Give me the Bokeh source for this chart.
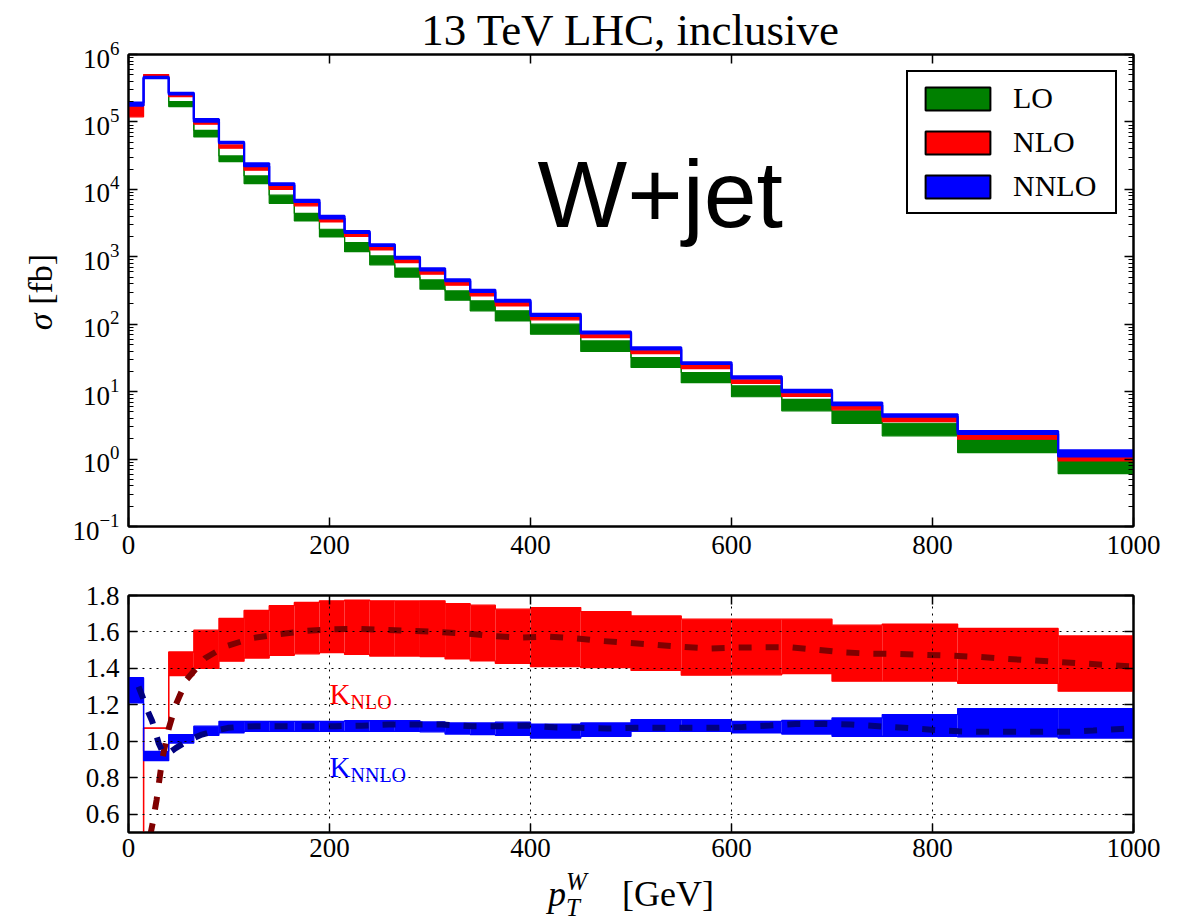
import math
from bokeh.plotting import figure
from bokeh.layouts import column, row
from bokeh.models import (FixedTicker, LinearAxis, Label, Legend, LegendItem, Div,
                          PrintfTickFormatter, Range1d, LogTickFormatter, CustomJSTickFormatter)
from bokeh.embed import file_html
from bokeh.resources import INLINE

SERIF = "Liberation Serif"
SANS = "Liberation Sans"
NAN = float("nan")

# ---------------- data ----------------
pt_edges = [0, 15, 40, 65, 90, 115, 140, 165, 190, 215, 240, 265, 290, 315, 340,
            365, 400, 450, 500, 550, 600, 650, 700, 750, 825, 925, 1000]

lo_low = [NAN, 4.45e5, 1.69e5, 6.0e4, 2.58e4, 1.22e4, 6.2e3, 3.4e3, 1.97e3, 1.19e3, 7.6e2,
          5.0e2, 3.3e2, 2.27e2, 1.58e2, 1.12e2, 71, 39.4, 22.8, 13.6, 8.4, 5.2, 3.37, 2.21, 1.25, 0.61]
lo_high = [NAN, 4.6e5, 2.0e5, 7.5e4, 3.13e4, 1.58e4, 8.2e3, 4.4e3, 2.56e3, 1.63e3, 1.03e3,
           6.8e2, 4.54e2, 3.12e2, 2.22e2, 1.58e2, 100, 56.6, 32.0, 19.2, 12.2, 7.7, 5.2, 3.4, 1.97, 0.94]

nlo_low = [1.19e5, 4.70e5, 2.38e5, 9.25e4, 4.07e4, 1.92e4, 1.00e4, 5.7e3, 3.29e3, 2.0e3, 1.26e3,
           8.2e2, 5.52e2, 3.78e2, 2.63e2, 1.87e2, 1.16e2, 63.4, 36.7, 22.0, 13.2, 8.5, 5.37, 3.6, 1.97, 0.94]
nlo_high = [1.72e5, 5.05e5, 2.60e5, 1.03e5, 4.56e4, 2.15e4, 1.12e4, 6.4e3, 3.73e3, 2.29e3, 1.45e3,
            9.2e2, 6.18e2, 4.25e2, 2.95e2, 2.09e2, 1.30e2, 71.0, 41.2, 25.5, 15.0, 9.5, 6.15, 4.13, 2.29, 1.08]

nnlo_low = [1.75e5, 4.45e5, 2.57e5, 1.01e5, 4.84e4, 2.21e4, 1.16e4, 6.5e3, 3.72e3, 2.26e3, 1.45e3,
            9.4e2, 6.3e2, 4.37e2, 3.02e2, 2.16e2, 1.33e2, 73.3, 42.2, 25.7, 15.7, 9.8, 6.3, 4.27, 2.37, 1.10]
nnlo_high = [1.94e5, 4.65e5, 2.70e5, 1.10e5, 5.07e4, 2.43e4, 1.23e4, 7.0e3, 4.03e3, 2.40e3, 1.53e3,
             1.0e3, 6.75e2, 4.62e2, 3.24e2, 2.29e2, 1.43e2, 77.6, 45.2, 27.2, 16.8, 10.6, 6.9, 4.62, 2.60, 1.35]

knlo_low = [0.0, 1.073, 1.36, 1.40, 1.44, 1.457, 1.472, 1.48, 1.487, 1.477, 1.468, 1.468, 1.465,
            1.452, 1.441, 1.428, 1.41, 1.404, 1.389, 1.363, 1.365, 1.371, 1.33, 1.33, 1.318, 1.275]
knlo_high = [0.0, 1.073, 1.49, 1.61, 1.675, 1.718, 1.744, 1.762, 1.771, 1.775, 1.771, 1.77, 1.771,
             1.755, 1.747, 1.725, 1.734, 1.712, 1.688, 1.67, 1.67, 1.67, 1.637, 1.643, 1.619, 1.578]

knnlo_low = [1.211, 0.894, 0.991, 1.033, 1.046, 1.055, 1.055, 1.055, 1.055, 1.055, 1.055, 1.055, 1.052,
             1.04, 1.037, 1.033, 1.018, 1.028, 1.055, 1.055, 1.046, 1.04, 1.028, 1.028, 1.024, 1.018]
knnlo_high = [1.349, 0.945, 1.037, 1.083, 1.11, 1.11, 1.11, 1.11, 1.11, 1.113, 1.113, 1.113, 1.106,
              1.101, 1.101, 1.105, 1.095, 1.101, 1.119, 1.119, 1.11, 1.115, 1.128, 1.147, 1.18, 1.18]

knlo_fit_x = [21.5, 24, 28, 33.5, 40, 47, 58, 76, 96, 123, 150, 177, 203, 230, 256, 283, 309, 337,
              363, 390, 417, 444, 470, 497, 524, 551, 578, 604, 631, 658, 685, 712, 738, 766, 792,
              820, 846, 873, 899, 927, 953, 980, 1000]
knlo_fit_y = [0.48, 0.55, 0.68, 0.90, 1.07, 1.20, 1.34, 1.455, 1.52, 1.566, 1.588, 1.606, 1.615,
              1.617, 1.611, 1.606, 1.60, 1.591, 1.578, 1.569, 1.575, 1.566, 1.551, 1.54, 1.53, 1.518,
              1.509, 1.514, 1.516, 1.516, 1.503, 1.488, 1.481, 1.479, 1.474, 1.47, 1.463, 1.453,
              1.444, 1.435, 1.426, 1.417, 1.41]

knnlo_fit_x = [10, 13.6, 18, 23.6, 30, 35, 40, 47, 58, 73, 86, 99, 112, 126, 153, 179, 206, 232,
               259, 285, 312, 342, 369, 396, 423, 450, 477, 504, 530, 557, 584, 611, 638, 664, 692,
               719, 746, 772, 799, 826, 853, 879, 906, 933, 960, 987, 1000]
knnlo_fit_y = [1.30, 1.25, 1.18, 1.11, 0.99, 0.93, 0.935, 0.963, 1.0, 1.037, 1.058, 1.074, 1.08,
               1.083, 1.083, 1.083, 1.083, 1.086, 1.092, 1.092, 1.092, 1.083, 1.083, 1.087, 1.077,
               1.074, 1.07, 1.074, 1.074, 1.074, 1.074, 1.079, 1.087, 1.095, 1.096, 1.092, 1.083,
               1.074, 1.064, 1.055, 1.052, 1.052, 1.052, 1.052, 1.059, 1.068, 1.072]

x_ticks = [0, 200, 400, 600, 800, 1000]
y_log_ticks = [10.0 ** k for k in range(-1, 7)]
y_log_minor = [m * 10.0 ** k for k in range(-1, 6) for m in range(2, 10)]
k_ticks = [0.6, 0.8, 1.0, 1.2, 1.4, 1.6, 1.8]

series_names = ["LO", "NLO", "NNLO"]

# colors
C_LO, C_NLO, C_NNLO = "#008000", "#ff0000", "#0000ff"
C_NLO_FIT, C_NNLO_FIT = "#800000", "#000080"


def steps(edges, vals):
    return list(edges), list(vals) + [vals[-1]]


def band(p, lows, highs, color, lw, start=0):
    e = pt_edges[start:]
    lo = lows[start:]
    hi = highs[start:]
    p.quad(left=e[:-1], right=e[1:], bottom=lo, top=hi, fill_color=color, line_color=None)
    for arr in (lo, hi):
        x, y = steps(e, arr)
        p.step(x=x, y=y, mode="after", line_color=color, line_width=lw)


def style_axis(ax, labels=True, size="27px", minor=True, standoff=9):
    ax.major_tick_in = 9
    ax.major_tick_out = 0
    ax.minor_tick_in = 5 if minor else 0
    ax.minor_tick_out = 0
    ax.major_tick_line_color = "black"
    ax.major_tick_line_width = 1.5
    ax.minor_tick_line_color = "black" if minor else None
    ax.minor_tick_line_width = 1
    ax.axis_line_color = "black"
    ax.axis_line_width = 2
    ax.major_label_text_font = SERIF
    ax.major_label_text_color = "black"
    if labels:
        ax.major_label_text_font_size = size
        ax.major_label_standoff = standoff
    else:
        ax.formatter = CustomJSTickFormatter(code="return ''")
        ax.major_label_text_font_size = "2px"
        ax.major_label_standoff = 0


# ---------------- y label ----------------
ylab_div = Div(width=60, height=575, margin=0, text=(
    "<div style=\"position:relative;width:60px;height:575px;\">"
    "<div style=\"position:absolute;left:41px;top:292px;transform:translate(-50%,-50%) rotate(-90deg);"
    "white-space:nowrap;font-family:'Liberation Serif';font-size:34px;line-height:1;color:#000;\">"
    "<i>&sigma;</i> [fb]</div></div>"))

# ---------------- top panel ----------------
top = figure(width=1123, height=575, x_range=Range1d(0, 1000), y_range=Range1d(0.1, 1e6),
             y_axis_type="log", output_backend="svg", toolbar_location=None,
             min_border_left=68, min_border_right=50, min_border_top=54, min_border_bottom=49)
top.outline_line_color = "black"
top.outline_line_width = 2
top.xgrid.visible = False
top.ygrid.visible = False
top.title.text = "13 TeV LHC, inclusive"
top.title.text_font = SERIF
top.title.text_font_size = "45px"
top.title.text_font_style = "normal"
top.title.text_color = "black"
top.title.align = "center"
top.title.standoff = 0

band(top, lo_low, lo_high, C_LO, 1.2, start=1)
band(top, nlo_low, nlo_high, C_NLO, 1.2)
band(top, nnlo_low, nnlo_high, C_NNLO, 2.2)

top.xaxis.ticker = FixedTicker(ticks=x_ticks)
style_axis(top.xaxis[0], minor=False)
top.yaxis.ticker = FixedTicker(ticks=y_log_ticks, minor_ticks=y_log_minor)
top.yaxis.formatter = LogTickFormatter()
style_axis(top.yaxis[0])

ax_top = LinearAxis(ticker=FixedTicker(ticks=x_ticks))
style_axis(ax_top, labels=False, minor=False)
top.add_layout(ax_top, "above")
ax_right = LinearAxis(ticker=FixedTicker(ticks=y_log_ticks, minor_ticks=y_log_minor))
style_axis(ax_right, labels=False)
top.add_layout(ax_right, "right")

# legend swatches (fill + black edge)
swatches = []
for col in (C_LO, C_NLO, C_NNLO):
    swatches.append(top.quad(left=[0], right=[0], bottom=[1], top=[1], fill_color=col,
                             line_color="black", line_width=2))
legend = Legend(items=[LegendItem(label=n, renderers=[r]) for n, r in zip(series_names, swatches)],
                location="top_right", margin=16, padding=9, spacing=10,
                glyph_width=81, glyph_height=29, label_standoff=15, label_width=93,
                label_text_font=SERIF, label_text_font_size="30px", label_text_color="black",
                border_line_color="black", border_line_width=2, border_line_alpha=1,
                background_fill_color="white", background_fill_alpha=1)
top.add_layout(legend)

top.add_layout(Label(x=407, y=2.5e3, y_offset=36, text="W+jet", text_font=SANS,
                     text_font_size="95px", text_color="black",
                     text_baseline="alphabetic", text_align="left"))

# ---------------- bottom panel ----------------
bot = figure(width=1183, height=294, x_range=Range1d(0, 1000), y_range=Range1d(0.5, 1.8),
             output_backend="svg", toolbar_location=None,
             min_border_left=128, min_border_right=50, min_border_top=20, min_border_bottom=37)
bot.outline_line_color = "black"
bot.outline_line_width = 2

band(bot, knlo_low, knlo_high, C_NLO, 1.3)
band(bot, knnlo_low, knnlo_high, C_NNLO, 1.3)
bot.line(knlo_fit_x, knlo_fit_y, line_color=C_NLO_FIT, line_width=6, line_dash="13 14")
bot.line(knnlo_fit_x, knnlo_fit_y, line_color=C_NNLO_FIT, line_width=6, line_dash="13 14")

bot.xaxis.ticker = FixedTicker(ticks=x_ticks)
style_axis(bot.xaxis[0], minor=False, standoff=6)
bot.yaxis.ticker = FixedTicker(ticks=k_ticks)
bot.yaxis.formatter = PrintfTickFormatter(format="%.1f")
style_axis(bot.yaxis[0], minor=False)
bax_top = LinearAxis(ticker=FixedTicker(ticks=x_ticks))
style_axis(bax_top, labels=False, minor=False)
bot.add_layout(bax_top, "above")
bax_right = LinearAxis(ticker=FixedTicker(ticks=k_ticks))
style_axis(bax_right, labels=False, minor=False)
bot.add_layout(bax_right, "right")

for g in (bot.xgrid[0], bot.ygrid[0]):
    g.grid_line_color = "black"
    g.grid_line_dash = "2 5"
    g.grid_line_width = 1
    g.level = "overlay"
bot.xgrid.ticker = FixedTicker(ticks=x_ticks)
bot.ygrid.ticker = FixedTicker(ticks=k_ticks)

bot.add_layout(Label(x=200, y=1.2, y_offset=11, text="K", text_font=SERIF, text_font_size="29px",
                     text_color=C_NLO, text_baseline="alphabetic"))
bot.add_layout(Label(x=200, y=1.2, x_offset=21, y_offset=2.5, text="NLO", text_font=SERIF,
                     text_font_size="20px", text_color=C_NLO, text_baseline="alphabetic"))
bot.add_layout(Label(x=200, y=0.8, y_offset=11, text="K", text_font=SERIF, text_font_size="29px",
                     text_color=C_NNLO, text_baseline="alphabetic"))
bot.add_layout(Label(x=200, y=0.8, x_offset=21, y_offset=2.5, text="NNLO", text_font=SERIF,
                     text_font_size="20px", text_color=C_NNLO, text_baseline="alphabetic"))

# ---------------- x label  p_T^W [GeV] ----------------
xlab_div = Div(width=1183, height=52, margin=0, text=(
    "<div style=\"position:relative;width:1183px;height:52px;font-family:'Liberation Serif';"
    "line-height:1;color:#000;\">"
    "<span style=\"position:absolute;left:548px;top:7px;font-size:36px;font-style:italic;\">p</span>"
    "<span style=\"position:absolute;left:566px;top:0px;font-size:25px;font-style:italic;\">W</span>"
    "<span style=\"position:absolute;left:566px;top:26px;font-size:25px;font-style:italic;\">T</span>"
    "<span style=\"position:absolute;left:622px;top:7px;font-size:36px;\">[GeV]</span>"
    "</div>"))

layout = column(row(ylab_div, top, spacing=0), bot, xlab_div, spacing=0)
open("out.html", "w").write(file_html(layout, INLINE))
